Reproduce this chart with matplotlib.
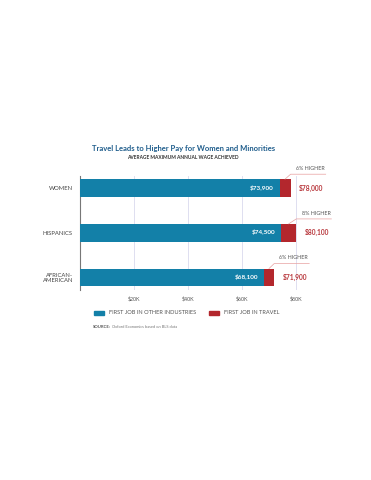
import matplotlib
matplotlib.use("Agg")
import matplotlib.pyplot as plt

categories = ["WOMEN", "HISPANICS", "AFRICAN-\nAMERICAN"]
other_industries = [73900, 74500, 68100]
first_travel = [78000, 80100, 71900]
pct_higher = ["6% HIGHER", "8% HIGHER", "6% HIGHER"]
tick_values = [20000, 40000, 60000, 80000]
tick_labels = ["$20K", "$40K", "$60K", "$80K"]

BLUE = "#1380a8"
RED = "#b3272d"
RED_TXT = "#b8363b"
GRAY = "#555555"
FONT = "Lato"

fig = plt.figure(figsize=(3.71, 4.80), dpi=100)
fig.patch.set_facecolor("white")
ax = fig.add_axes([80 / 371, 1 - 290 / 480, 270 / 371, 114 / 480])

ypos = list(range(len(categories)))
h = 0.4
ax.barh(ypos, first_travel, height=h, color=RED, zorder=2)
ax.barh(ypos, other_industries, height=h, color=BLUE, zorder=3)

ax.set_xlim(0, 100000)
ax.set_ylim(2.28, -0.27)

for xv in tick_values:
    ax.axvline(xv, color="#d9d9ee", lw=0.6, zorder=1)

ax.set_xticks(tick_values)
ax.set_xticklabels(tick_labels, fontsize=3.8, color=GRAY, family=FONT)
ax.set_yticks(ypos)
ax.set_yticklabels(categories, fontsize=4.2, color="#444444", family=FONT,
                   linespacing=1.1)
ax.tick_params(axis="both", length=0, pad=5)
ax.tick_params(axis="x", pad=4)
for s in ["top", "right", "bottom"]:
    ax.spines[s].set_visible(False)
ax.spines["left"].set_color("#777777")
ax.spines["left"].set_linewidth(0.8)

for i, (o, t, p) in enumerate(zip(other_industries, first_travel, pct_higher)):
    ax.annotate(f"${o:,}", (o, i), xytext=(-4, 0), textcoords="offset points",
                ha="right", va="center", color="white", fontsize=4.6,
                fontweight="bold", family=FONT, zorder=4)
    ax.annotate(f"${t:,}", (t, i), xytext=(6, 0), textcoords="offset points",
                ha="left", va="center", color=RED_TXT, fontsize=4.8,
                fontweight="bold", family=FONT, zorder=4)
    mid = (o + t) / 2
    ax.plot([mid, t, t + 13000], [i - h / 2, i - 0.31, i - 0.31],
            color="#e8a0a0", lw=0.5, zorder=4, clip_on=False)
    ax.text(t + 7300, i - 0.38, p, ha="center", va="bottom", fontsize=3.9,
            color=GRAY, family=FONT, zorder=4)

fig.text(183.5 / 371, 1 - 148 / 480,
         "Travel Leads to Higher Pay for Women and Minorities",
         ha="center", va="center", fontsize=5.5, fontweight="bold",
         color="#1f5d8c", family=FONT)
fig.text(183 / 371, 1 - 157.5 / 480, "AVERAGE MAXIMUM ANNUAL WAGE ACHIEVED",
         ha="center", va="center", fontsize=3.5, fontweight="bold",
         color="#333333", family=FONT)

# legend
fig.patches.append(plt.Rectangle((94 / 371, 1 - 315 / 480), 10 / 371, 4 / 480,
                                 transform=fig.transFigure, color=BLUE))
fig.text(109 / 371, 1 - 313 / 480, "FIRST JOB IN OTHER INDUSTRIES",
         ha="left", va="center", fontsize=4.1, color=GRAY, family=FONT)
fig.patches.append(plt.Rectangle((209 / 371, 1 - 315 / 480), 10 / 371, 4 / 480,
                                 transform=fig.transFigure, color=RED))
fig.text(224 / 371, 1 - 313 / 480, "FIRST JOB IN TRAVEL",
         ha="left", va="center", fontsize=4.1, color=GRAY, family=FONT)

src = fig.text(93 / 371, 1 - 327 / 480, "SOURCE:", ha="left", va="center",
               fontsize=3.1, fontweight="bold", color=GRAY, family=FONT)
fig.canvas.draw()
bb = src.get_window_extent()
fig.text((bb.x1 + 1.5) / 371, 1 - 327 / 480, "Oxford Economics based on BLS data",
         ha="left", va="center", fontsize=2.9, color="#777777", family=FONT)

fig.savefig("out.png", dpi=100, facecolor="white")
